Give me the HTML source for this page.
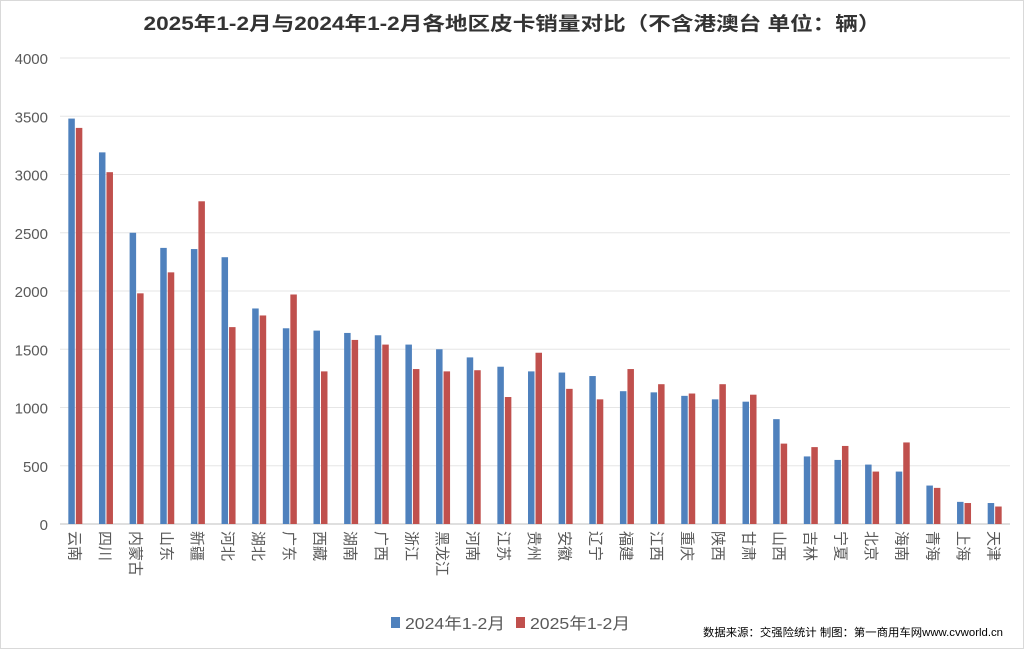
<!DOCTYPE html>
<html><head><meta charset="utf-8"><style>
body{margin:0;background:#fff;}
svg{display:block;font-family:"Liberation Sans","Noto Sans CJK SC",sans-serif;}
</style></head><body>
<svg id="chart" width="1024" height="649" viewBox="0 0 1024 649">
<rect x="0.5" y="0.5" width="1023" height="648" fill="#fff" stroke="#d9d9d9"/>
<text x="512" y="30" text-anchor="middle" font-size="19" font-weight="bold" fill="#333" textLength="737" lengthAdjust="spacingAndGlyphs">2025年1-2月与2024年1-2月各地区皮卡销量对比（不含港澳台 单位：辆）</text>
<g id="grid"></g><g id="bars"></g><g id="xlabels"></g>
<g>
<rect x="391" y="617" width="9" height="11" fill="#4f81bd"/>
<text x="405" y="629" font-size="16" fill="#595959" textLength="100" lengthAdjust="spacingAndGlyphs">2024年1-2月</text>
<rect x="516" y="617" width="9" height="11" fill="#c0504d"/>
<text x="530" y="629" font-size="16" fill="#595959" textLength="100" lengthAdjust="spacingAndGlyphs">2025年1-2月</text>
</g>
<text x="1003" y="636" text-anchor="end" font-size="11" fill="#000" textLength="300" lengthAdjust="spacingAndGlyphs">数据来源：交强险统计 制图：第一商用车网www.cvworld.cn</text>
</svg>
<script>
const categories=["云南","四川","内蒙古","山东","新疆","河北","湖北","广东","西藏","湖南","广西","浙江","黑龙江","河南","江苏","贵州","安徽","辽宁","福建","江西","重庆","陕西","甘肃","山西","吉林","宁夏","北京","海南","青海","上海","天津"];
const series2024=[3480,3190,2500,2370,2360,2290,1850,1680,1660,1640,1620,1540,1500,1430,1350,1310,1300,1270,1140,1130,1100,1070,1050,900,580,550,510,450,330,190,180];
const series2025=[3400,3020,1980,2160,2770,1690,1790,1970,1310,1580,1540,1330,1310,1320,1090,1470,1160,1070,1330,1200,1120,1200,1110,690,660,670,450,700,310,180,150];
const yTicks=[0,500,1000,1500,2000,2500,3000,3500,4000];
const NS="http://www.w3.org/2000/svg";
const L=60,R=1010,T=58,B=524,yMax=4000;
const band=(R-L)/categories.length;
const y=v=>B-(v/yMax)*(B-T);
const x=i=>L+band*i+band/2;
function mk(t,a,p){const e=document.createElementNS(NS,t);for(const k in a)e.setAttribute(k,a[k]);p.appendChild(e);return e;}
const grid=document.getElementById('grid');
yTicks.forEach(v=>{
 const ln=mk('line',{x1:L,x2:R,y1:y(v),y2:y(v),stroke:v===0?'#bfbfbf':'#e6e6e6','stroke-width':1},grid);
 
 
 const t=mk('text',{x:48,y:y(v)+6,'text-anchor':'end','font-size':15,fill:'#595959'},grid);
 t.textContent=v;
 
 
});
const bars=document.getElementById('bars'),xl=document.getElementById('xlabels');
const bw=7;
categories.forEach((c,i)=>{
 const cx=x(i);
 const b1=mk('rect',{x:cx-bw,y:y(series2024[i]),width:bw-0.5,height:B-y(series2024[i]),fill:'#4f81bd'},bars);
 
 
 const b2=mk('rect',{x:cx+0.5,y:y(series2025[i]),width:bw-0.5,height:B-y(series2025[i]),fill:'#c0504d'},bars);
 
 
 const t=mk('text',{x:0,y:0,'font-size':15,fill:'#595959',transform:`translate(${cx-6},${531}) rotate(90)`},xl);
 t.textContent=c;
 
 
});
</script>
</body></html>
